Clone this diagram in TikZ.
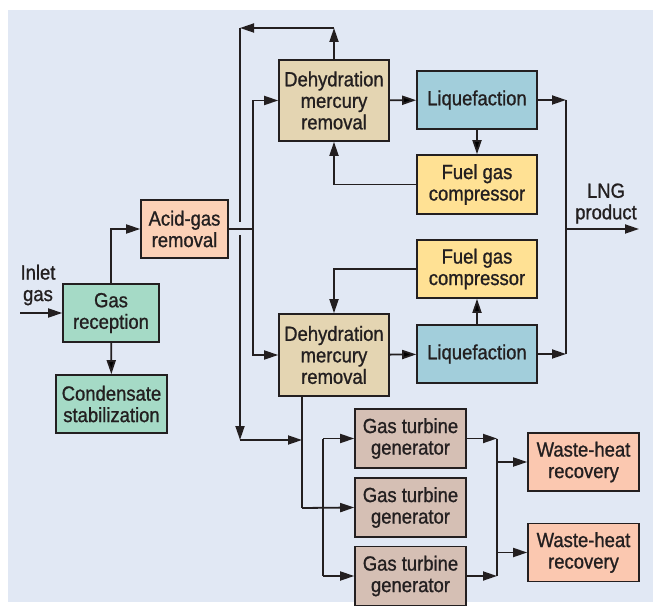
\documentclass[tikz,border=0pt]{standalone}
\usepackage{fontspec}
\setmainfont{Liberation Sans}[FakeStretch=0.9, FakeBold=1]
\usepackage{tikz}
\usetikzlibrary{arrows.meta}

\definecolor{bgblue}{HTML}{E1E8F4}
\definecolor{peach}{HTML}{FCD1B7}
\definecolor{mint}{HTML}{A5DAC6}
\definecolor{tan}{HTML}{E4D5B2}
\definecolor{iceblue}{HTML}{A2CEDB}
\definecolor{fuelyellow}{HTML}{FFE194}
\definecolor{taupe}{HTML}{D5BFB4}
\definecolor{salmon}{HTML}{FBC8B0}
\definecolor{ink}{HTML}{231F20}

\begin{document}
\begin{tikzpicture}[x=1pt, y=-1pt,
    every node/.style={text=ink, font=\fontsize{20.5}{21.5}\selectfont, align=center},
    box/.style={draw=ink, line width=1.6pt, inner sep=0pt, minimum width=120pt, minimum height=58pt},
    >={Triangle[length=14pt, width=9pt]},
    flow/.style={draw=ink, line width=1.8pt}]

    % background
    \fill[white] (0,0) rectangle (653,602);
    \fill[bgblue] (8,10) rectangle (653,602);

    \node[box, fill=mint, minimum width=96pt] at (111,313) (rec) {Gas\\reception};
    \node[box, fill=mint, minimum width=111pt] at (111.5,404) (cond) {Condensate\\stabilization};
    \node[box, fill=peach, minimum width=87pt] at (184.5,229) (agr) {Acid-gas\\removal};
    \node[box, fill=tan, minimum width=110pt, minimum height=81pt] at (334,100.5) (dehy1) {Dehydration\\mercury\\removal};
    \node[box, fill=iceblue] at (477,100) (liq1) {Liquefaction};
    \node[box, fill=fuelyellow, minimum height=59pt] at (477,184.5) (fgc1) {Fuel gas\\compressor};
    \node[box, fill=fuelyellow] at (477,269) (fgc2) {Fuel gas\\compressor};
    \node[box, fill=tan, minimum width=110pt, minimum height=82pt] at (334,355) (dehy2) {Dehydration\\mercury\\removal};
    \node[box, fill=iceblue] at (477,354) (liq2) {Liquefaction};
    \node[box, fill=taupe, minimum width=111pt, minimum height=59pt] at (410.5,438.5) (gtg1) {Gas turbine\\generator};
    \node[box, fill=taupe, minimum width=111pt, minimum height=59pt] at (410.5,507.5) (gtg2) {Gas turbine\\generator};
    \node[box, fill=taupe, minimum width=111pt, minimum height=59pt] at (410.5,576) (gtg3) {Gas turbine\\generator};
    \node[box, fill=salmon, minimum width=111pt] at (583.5,462) (whr1) {Waste-heat\\recovery};
    \node[box, fill=salmon, minimum width=111pt] at (583.5,552.5) (whr2) {Waste-heat\\recovery};

    \node at (38,285) (inlet) {Inlet\\gas};
    \node at (606,203.5) (lng) {LNG\\product};

    \coordinate (feed) at (20,313);
    \coordinate (split) at (253,229);
    \coordinate (topr) at (334,28);
    \coordinate (topl) at (240,28);
    \coordinate (cut1) at (240,222);
    \coordinate (cut2) at (240,235);
    \coordinate (botl) at (240,440);
    \coordinate (join) at (302,440);
    \coordinate (d2out) at (302,396);
    \coordinate (mid) at (302,508);
    \coordinate (fan1) at (323,438.5);
    \coordinate (fan3) at (323,576);
    \coordinate (col1) at (497,438.5);
    \coordinate (col3) at (497,576);
    \coordinate (lngt) at (566,100);
    \coordinate (lngb) at (566,354);
    \coordinate (lngo) at (566,229);
    \coordinate (lnge) at (639,229);

    % gas treating
    \draw[flow, ->] (feed) -- (rec.west);
    \draw[flow, ->] (rec.north) |- (agr.west);
    \path[flow, ->] (rec) edge (cond);
    \draw[flow] (agr.east) -- (split);
    \draw[flow, ->] (split) |- (dehy1.west);
    \draw[flow, ->] (split) |- (dehy2.west);

    % bypass line
    \draw[flow, ->] (dehy1.north) -- (topr);
    \draw[flow, ->] (topr) -- (topl);
    \draw[flow] (topl) -- (cut1);
    \draw[flow, ->] (cut2) -- (botl);
    \draw[flow, ->] (botl) -- (join);

    % liquefaction trains
    \path[flow, ->] (dehy1) edge (liq1);
    \path[flow, ->] (liq1) edge (fgc1);
    \draw[flow, ->] (fgc1.west) -| (dehy1.south);
    \path[flow, ->] (dehy2) edge (liq2);
    \path[flow, ->] (liq2) edge (fgc2);
    \draw[flow, ->] (fgc2.west) -| (dehy2.north);

    % LNG product
    \draw[flow, ->] (liq1.east) -- (lngt);
    \draw[flow, ->] (liq2.east) -- (lngb);
    \draw[flow] (lngt) -- (lngb);
    \draw[flow, ->] (lngo) -- (lnge);

    % power generation
    \draw[flow] (d2out) -- (mid);
    \draw[flow, ->] (mid) -- (gtg2.west);
    \draw[flow] (fan1) -- (fan3);
    \draw[flow, ->] (fan1) -- (gtg1.west);
    \draw[flow, ->] (fan3) -- (gtg3.west);
    \draw[flow, ->] (gtg1.east) -- (col1);
    \draw[flow, ->] (gtg3.east) -- (col3);
    \draw[flow] (col1) -- (col3);
    \draw[flow, ->] (col1 |- whr1.west) -- (whr1.west);
    \draw[flow, ->] (col1 |- whr2.west) -- (whr2.west);

\end{tikzpicture}
\end{document}
